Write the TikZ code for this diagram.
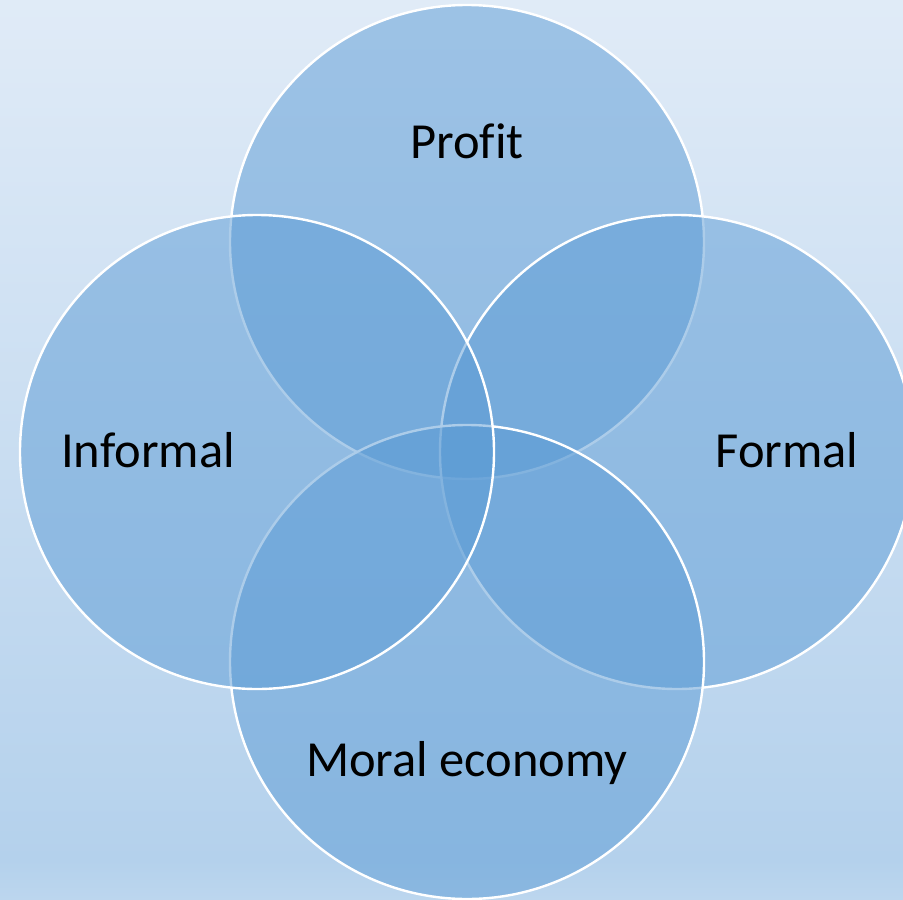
\documentclass[tikz,border=0pt]{standalone}
\usepackage{fontspec}
\setmainfont[Ligatures=NoCommon]{Carlito}
\begin{document}
\begin{tikzpicture}[x=1pt,y=-1pt,
  ring/.style={circle, draw=white, line width=2.4pt, fill=ringblue,
    fill opacity=0.5, minimum size=474pt, inner sep=0pt},
  tag/.style={anchor=base, text=black, inner sep=0pt,
    font=\fontsize{50.5}{60}\selectfont}]
\definecolor{bgtop}{RGB}{224,235,247}
\definecolor{bgmid}{RGB}{180,209,236}
\definecolor{bgbot}{RGB}{188,214,238}
\definecolor{ringblue}{RGB}{91,155,213}
\useasboundingbox (0,0) rectangle (903,900);
\clip (0,0) rectangle (903,900);
% page background
\shade[top color=bgtop, bottom color=bgmid] (0,0) rectangle (903,860);
\shade[top color=bgmid, bottom color=bgbot] (0,859.5) rectangle (903,900);
% the four overlapping circles
\node[ring] (profit)   at (467,242) {};
\node[ring] (formal)   at (677,452) {};
\node[ring] (moral)    at (467,662) {};
\node[ring] (informal) at (257,452) {};
% labels
\node[tag] (tprofit)   at (467,158) {Profit};
\node[tag] (tinformal) at (148,467) {Informal};
\node[tag] (tformal)   at (787,467) {Formal};
\node[tag] (tmoral)    at (467,776) {Moral economy};
\end{tikzpicture}
\end{document}
